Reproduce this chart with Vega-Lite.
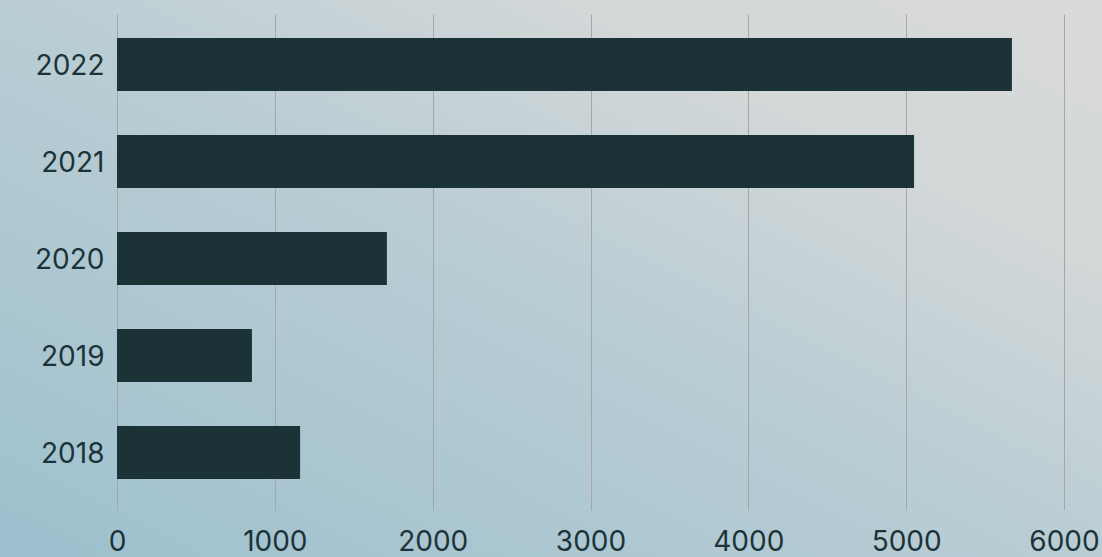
{
  "$schema": "https://vega.github.io/schema/vega-lite/v6.json",
  "width": 1102,
  "height": 557,
  "autosize": {"type": "none"},
  "padding": 0,
  "background": "#bbcdd4",
  "view": {
    "stroke": null,
    "fill": {
      "gradient": "linear",
      "x1": 0, "y1": 1, "x2": 1, "y2": 0,
      "stops": [
        {"offset": 0, "color": "#9cc0ce"},
        {"offset": 0.5, "color": "#bacdd4"},
        {"offset": 0.75, "color": "#d2d7d8"},
        {"offset": 1, "color": "#dadada"}
      ]
    }
  },
  "data": {
    "values": [
      {"year": "2018", "value": 1160},
      {"year": "2019", "value": 855},
      {"year": "2020", "value": 1710},
      {"year": "2021", "value": 5050},
      {"year": "2022", "value": 5670}
    ]
  },
  "mark": {"type": "bar", "color": "#1b3237"},
  "encoding": {
    "y": {
      "field": "year",
      "type": "ordinal",
      "sort": "descending",
      "scale": {"range": [14, 510], "paddingInner": 0.454, "paddingOuter": 0.284, "align": 0.436},
      "axis": {
        "title": null,
        "orient": "left",
        "offset": -117,
        "domain": false,
        "ticks": false,
        "grid": false,
        "labelPadding": 13,
        "labelOffset": 3,
        "labelFont": "Inter",
        "labelFontSize": 28,
        "labelColor": "#1c3338"
      }
    },
    "x": {
      "field": "value",
      "type": "quantitative",
      "scale": {"domain": [0, 6000], "range": [117, 1064], "nice": false, "zero": true},
      "axis": {
        "title": null,
        "orient": "bottom",
        "offset": -47,
        "values": [0, 1000, 2000, 3000, 4000, 5000, 6000],
        "format": "d",
        "domain": false,
        "grid": false,
        "ticks": true,
        "tickSize": -496,
        "tickColor": "#a6a6a6",
        "tickWidth": 1,
        "labelPadding": 514,
        "labelFlush": false,
        "labelOverlap": false,
        "labelFont": "Inter",
        "labelFontSize": 28,
        "labelColor": "#1c3338"
      }
    }
  }
}
